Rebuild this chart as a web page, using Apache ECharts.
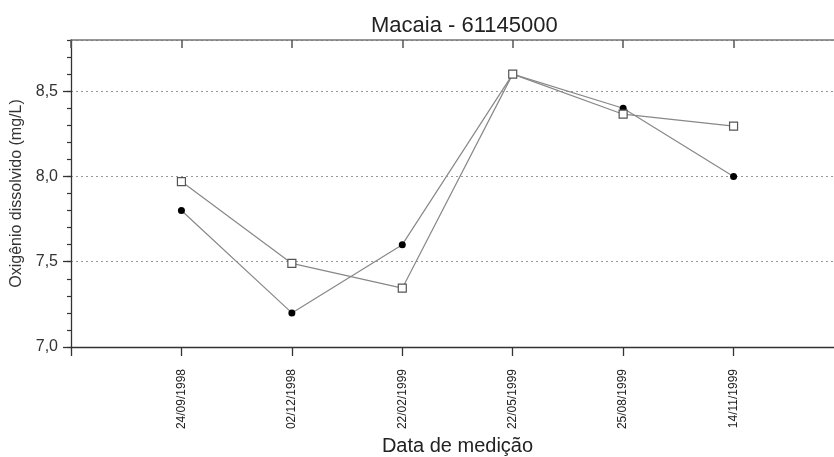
<!DOCTYPE html>
<html>
<head>
<meta charset="utf-8">
<title>Macaia - 61145000</title>
<script src="https://cdn.jsdelivr.net/npm/echarts@6/dist/echarts.min.js"></script>
<style>
  html, body { margin: 0; padding: 0; background: #fff; }
  #chart { width: 834px; height: 457px; }
</style>
</head>
<body>
<div id="chart"></div>
<script>
// sampling dates (category labels)
const dates = ["24/09/1998", "02/12/1998", "22/02/1999", "22/05/1999", "25/08/1999", "14/11/1999"];

// dissolved oxygen, mg/L
const odFilled = [7.8, 7.2, 7.6, 8.6, 8.4, 8.0];      // filled circles
const odOpen = [7.97, 7.49, 7.345, 8.6, 8.365, 8.295]; // open squares

const FONT = "'Liberation Sans', Arial, sans-serif";

// x position of each date: 1..n on a 0..n+1 value axis
const toPairs = vals => vals.map((v, i) => [i + 1, v]);

const chart = echarts.init(document.getElementById("chart"));

chart.setOption({
  animation: false,
  textStyle: { fontFamily: FONT },
  title: {
    text: "Macaia - 61145000",
    left: 366,
    top: 10,
    textStyle: { fontFamily: FONT, fontSize: 22, fontWeight: "normal", color: "#222" }
  },
  // plot runs past the right edge of the picture, like the original
  grid: { left: 71, top: 40, width: 773, height: 307, outerBoundsMode: "none" },
  xAxis: [
    {
      type: "value",
      position: "bottom",
      min: 0,
      max: dates.length + 1,
      interval: 1,
      name: "Data de medição",
      nameLocation: "middle",
      nameGap: 86,
      nameTextStyle: { fontFamily: FONT, fontSize: 20, color: "#222" },
      axisLine: { lineStyle: { color: "#333", width: 1.3 } },
      axisTick: { length: 9, lineStyle: { color: "#333", width: 1.3 } },
      axisLabel: {
        rotate: 90,
        margin: 22,
        fontSize: 12,
        color: "#222",
        formatter: v => dates[v - 1] || ""
      },
      splitLine: { show: false }
    },
    {
      // top frame with inward ticks
      type: "value",
      position: "top",
      min: 0,
      max: dates.length + 1,
      interval: 1,
      axisLine: { lineStyle: { color: "#777", width: 1.5 } },
      axisTick: { inside: true, length: 8, lineStyle: { color: "#555", width: 1.5 } },
      axisLabel: { show: false },
      splitLine: { show: false }
    }
  ],
  yAxis: [
    {
      type: "value",
      min: 7,
      max: 8.8,
      interval: 0.5,
      name: "Oxigênio dissolvido (mg/L)",
      nameLocation: "middle",
      nameGap: 35,
      nameTextStyle: { fontFamily: FONT, fontSize: 16, color: "#333" },
      axisLine: { show: true, lineStyle: { color: "#333", width: 1.3 } },
      axisTick: { show: true, length: 8, lineStyle: { color: "#333", width: 1.3 } },
      axisLabel: {
        margin: 13,
        fontSize: 16,
        color: "#333",
        showMaxLabel: false,
        formatter: v => v.toFixed(1).replace(".", ",")
      },
      splitLine: {
        show: true,
        lineStyle: { color: "#999", type: [2, 3], width: 1 }
      }
    },
    {
      // minor ticks every 0.1
      type: "value",
      position: "left",
      min: 7,
      max: 8.8,
      interval: 0.1,
      axisLine: { show: false },
      axisTick: { show: true, length: 4, lineStyle: { color: "#333", width: 1.2 } },
      axisLabel: { show: false },
      splitLine: { show: false }
    }
  ],
  series: [
    {
      type: "line",
      data: toPairs(odFilled),
      symbol: "circle",
      symbolSize: 7,
      itemStyle: { color: "#000" },
      lineStyle: { color: "#888", width: 1.2 },
      z: 3
    },
    {
      type: "line",
      data: toPairs(odOpen),
      symbol: "rect",
      symbolSize: 8,
      itemStyle: { color: "#fff", borderColor: "#555", borderWidth: 1.2 },
      lineStyle: { color: "#888", width: 1.2 },
      z: 4
    }
  ]
});
</script>
</body>
</html>
